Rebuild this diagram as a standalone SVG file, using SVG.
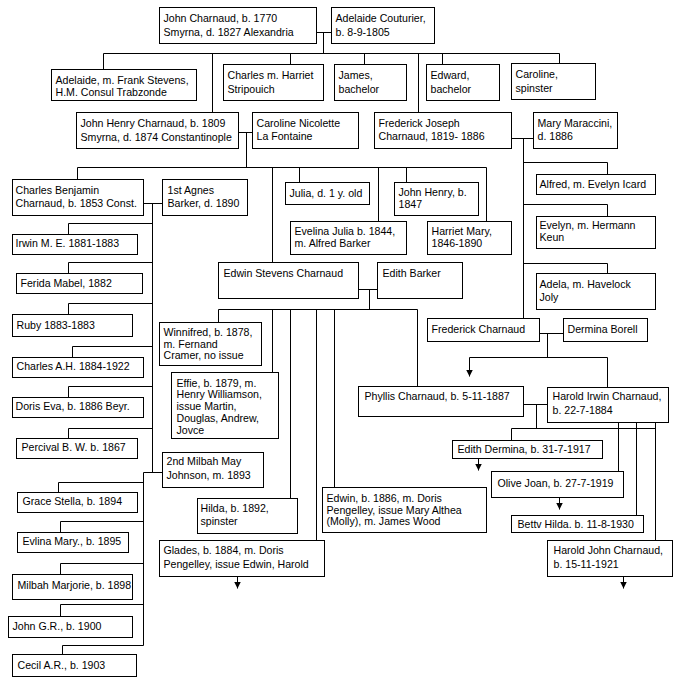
<svg xmlns="http://www.w3.org/2000/svg" width="682" height="686" viewBox="0 0 682 686">
<style>
rect{fill:#fff;stroke:#000;stroke-width:1}
path{fill:none;stroke:#000;stroke-width:1}
text{font-family:"Liberation Sans",Arial,sans-serif;font-size:10.6px;fill:#000}
</style>
<defs>
<marker id="ar" viewBox="0 0 8 8" refX="8" refY="4" markerWidth="7" markerHeight="7" markerUnits="userSpaceOnUse" orient="auto"><path d="M0,0 L8,4 L0,8 z" style="fill:#000;stroke:none"/></marker>
</defs>
<rect x="0" y="0" width="682" height="686" style="stroke:none"/>
<g transform="translate(0.5,0.5)">
<g id="connectors">
<path d="M316,32 H331 M323,32 V53 M103,53 H559 M103,53 V69 M212,53 V112 M290,53 V64 M364,53 V64 M418,53 V112 M442,53 V64 M559,53 V63"/>
<path d="M238,132 H252 M246,132 V167 M77,167 H486 M77,167 V179 M272,167 V262 M299,167 V182 M378,167 V221 M406,167 V182 M486,167 V221"/>
<path d="M511,138 H533 M523,138 V318 M523,162 H607 V174 M523,204 H607 V216 M523,263 H607 V273"/>
<path d="M143,203 H162 M152,203 V472 M152,223 H68 V234 M152,262 H68 V273 M152,303 H68 V314 M152,346 H72 V357 M152,386 H68 V397 M152,428 H68 V438"/>
<path d="M143,472 H162 M143,472 V645 M143,482 H58 V492 M143,521 H60 V532 M143,563 H60 V574 M143,604 H60 V616 M143,645 H62 V654"/>
<path d="M358,289 H377 M369,289 V309 M218,309 H417 M218,309 V322 M272,309 V372 M290,309 V498 M316,309 V540 M334,309 V487 M417,309 V386"/>
<path d="M539,333 H563 M547,333 V357 M469,357 H607 M607,357 V387"/>
<path d="M523,404 H547 M536,404 V428 M511,428 H655 M511,428 V440 M618,422 V471 M636,422 V515 M655,422 V540"/>
<path d="M469,357 V376" marker-end="url(#ar)"/>
<path d="M478,458 V470" marker-end="url(#ar)"/>
<path d="M559,497 V509" marker-end="url(#ar)"/>
<path d="M237,576 V588" marker-end="url(#ar)"/>
<path d="M623,576 V588" marker-end="url(#ar)"/>
</g>
<g id="n-john-charnaud"><rect x="159" y="7" width="157" height="36"/><text x="163" y="21">John Charnaud, b. 1770</text><text x="163" y="35">Smyrna, d. 1827 Alexandria</text></g>
<g id="n-adelaide-couturier"><rect x="331" y="7" width="103" height="36"/><text x="335" y="21">Adelaide Couturier,</text><text x="335" y="35">b. 8-9-1805</text></g>
<g id="n-adelaide-stevens"><rect x="51" y="69" width="145" height="31"/><text x="55" y="83">Adelaide, m. Frank Stevens,</text><text x="55" y="95">H.M. Consul Trabzonde</text></g>
<g id="n-charles-harriet"><rect x="223" y="64" width="100" height="36"/><text x="227" y="78">Charles m. Harriet</text><text x="227" y="92">Stripouich</text></g>
<g id="n-james"><rect x="334" y="64" width="72" height="36"/><text x="338" y="78">James,</text><text x="338" y="92">bachelor</text></g>
<g id="n-edward"><rect x="426" y="64" width="73" height="36"/><text x="430" y="78">Edward,</text><text x="430" y="92">bachelor</text></g>
<g id="n-caroline"><rect x="511" y="63" width="84" height="36"/><text x="515" y="77">Caroline,</text><text x="515" y="91">spinster</text></g>
<g id="n-john-henry"><rect x="76" y="112" width="162" height="36"/><text x="80" y="126">John Henry Charnaud, b. 1809</text><text x="80" y="140">Smyrna, d. 1874 Constantinople</text></g>
<g id="n-caroline-nicolette"><rect x="252" y="112" width="106" height="36"/><text x="256" y="126">Caroline Nicolette</text><text x="256" y="139">La Fontaine</text></g>
<g id="n-frederick-joseph"><rect x="374" y="112" width="137" height="36"/><text x="378" y="126">Frederick Joseph</text><text x="378" y="139">Charnaud, 1819- 1886</text></g>
<g id="n-mary-maraccini"><rect x="533" y="112" width="84" height="36"/><text x="537" y="126">Mary Maraccini,</text><text x="537" y="139">d. 1886</text></g>
<g id="n-charles-benjamin"><rect x="12" y="179" width="131" height="36"/><text x="15" y="193">Charles Benjamin</text><text x="15" y="206">Charnaud, b. 1853 Const.</text></g>
<g id="n-agnes-barker"><rect x="162" y="179" width="85" height="36"/><text x="167" y="193">1st Agnes</text><text x="167" y="206">Barker, d. 1890</text></g>
<g id="n-julia"><rect x="285" y="182" width="84" height="22"/><text x="289" y="196">Julia, d. 1 y. old</text></g>
<g id="n-john-henry-1847"><rect x="394" y="182" width="84" height="33"/><text x="398" y="195">John Henry, b.</text><text x="398" y="207">1847</text></g>
<g id="n-evelina-julia"><rect x="290" y="221" width="116" height="33"/><text x="294" y="234">Evelina Julia b. 1844,</text><text x="294" y="246">m. Alfred Barker</text></g>
<g id="n-harriet-mary"><rect x="427" y="221" width="84" height="33"/><text x="431" y="234">Harriet Mary,</text><text x="431" y="246">1846-1890</text></g>
<g id="n-alfred"><rect x="536" y="174" width="119" height="20"/><text x="539" y="187">Alfred, m. Evelyn Icard</text></g>
<g id="n-evelyn"><rect x="536" y="216" width="119" height="32"/><text x="539" y="228">Evelyn, m. Hermann</text><text x="539" y="240">Keun</text></g>
<g id="n-adela"><rect x="536" y="273" width="119" height="36"/><text x="539" y="287">Adela, m. Havelock</text><text x="539" y="300">Joly</text></g>
<g id="n-irwin"><rect x="12" y="234" width="125" height="20"/><text x="15" y="246">Irwin M. E. 1881-1883</text></g>
<g id="n-ferida"><rect x="16" y="273" width="126" height="20"/><text x="20" y="286">Ferida Mabel, 1882</text></g>
<g id="n-ruby"><rect x="12" y="314" width="120" height="22"/><text x="16" y="328">Ruby 1883-1883</text></g>
<g id="n-charles-ah"><rect x="12" y="357" width="131" height="20"/><text x="16" y="369">Charles A.H. 1884-1922</text></g>
<g id="n-doris-eva"><rect x="12" y="397" width="131" height="20"/><text x="15" y="409">Doris Eva, b. 1886 Beyr.</text></g>
<g id="n-percival"><rect x="16" y="438" width="121" height="20"/><text x="21" y="450">Percival B. W. b. 1867</text></g>
<g id="n-edwin-stevens"><rect x="218" y="262" width="140" height="36"/><text x="223" y="276">Edwin Stevens Charnaud</text></g>
<g id="n-edith-barker"><rect x="377" y="262" width="85" height="36"/><text x="382" y="276">Edith Barker</text></g>
<g id="n-winnifred"><rect x="159" y="322" width="102" height="43"/><text x="163" y="335">Winnifred, b. 1878,</text><text x="163" y="347">m. Fernand</text><text x="163" y="358">Cramer, no issue</text></g>
<g id="n-effie"><rect x="171" y="372" width="107" height="66"/><text x="176" y="386">Effie, b. 1879, m.</text><text x="176" y="397">Henry Williamson,</text><text x="176" y="409">issue Martin,</text><text x="176" y="421">Douglas, Andrew,</text><text x="176" y="433">Jovce</text></g>
<g id="n-milbah-may"><rect x="162" y="452" width="101" height="35"/><text x="166" y="464">2nd Milbah May</text><text x="166" y="478">Johnson, m. 1893</text></g>
<g id="n-hilda"><rect x="197" y="498" width="100" height="35"/><text x="200" y="511">Hilda, b. 1892,</text><text x="200" y="524">spinster</text></g>
<g id="n-glades"><rect x="159" y="540" width="165" height="36"/><text x="163" y="553">Glades, b. 1884, m. Doris</text><text x="163" y="567">Pengelley, issue Edwin, Harold</text></g>
<g id="n-edwin-1886"><rect x="322" y="487" width="164" height="45"/><text x="326" y="501">Edwin, b. 1886, m. Doris</text><text x="326" y="513">Pengelley, issue Mary Althea</text><text x="326" y="524">(Molly), m. James Wood</text></g>
<g id="n-frederick-charnaud"><rect x="427" y="318" width="112" height="23"/><text x="431" y="332">Frederick Charnaud</text></g>
<g id="n-dermina-borell"><rect x="563" y="318" width="84" height="23"/><text x="567" y="332">Dermina Borell</text></g>
<g id="n-phyllis"><rect x="358" y="386" width="165" height="30"/><text x="364" y="399">Phyllis Charnaud, b. 5-11-1887</text></g>
<g id="n-harold-irwin"><rect x="547" y="387" width="121" height="35"/><text x="552" y="399">Harold Irwin Charnaud,</text><text x="552" y="413">b. 22-7-1884</text></g>
<g id="n-edith-dermina"><rect x="452" y="440" width="150" height="18"/><text x="457" y="452">Edith Dermina, b. 31-7-1917</text></g>
<g id="n-olive-joan"><rect x="491" y="471" width="132" height="26"/><text x="497" y="486">Olive Joan, b. 27-7-1919</text></g>
<g id="n-betty-hilda"><rect x="511" y="515" width="132" height="17"/><text x="517" y="527">Bettv Hilda. b. 11-8-1930</text></g>
<g id="n-harold-john"><rect x="547" y="540" width="125" height="36"/><text x="553" y="553">Harold John Charnaud,</text><text x="553" y="567">b. 15-11-1921</text></g>
<g id="n-grace-stella"><rect x="17" y="492" width="120" height="20"/><text x="22" y="504">Grace Stella, b. 1894</text></g>
<g id="n-evlina-mary"><rect x="17" y="532" width="111" height="20"/><text x="22" y="544">Evlina Mary., b. 1895</text></g>
<g id="n-milbah-marjorie"><rect x="12" y="574" width="120" height="25"/><text x="17" y="588">Milbah Marjorie, b. 1898</text></g>
<g id="n-john-gr"><rect x="8" y="616" width="124" height="21"/><text x="12" y="629">John G.R., b. 1900</text></g>
<g id="n-cecil-ar"><rect x="12" y="654" width="124" height="22"/><text x="17" y="668">Cecil A.R., b. 1903</text></g>
</g>
</svg>
